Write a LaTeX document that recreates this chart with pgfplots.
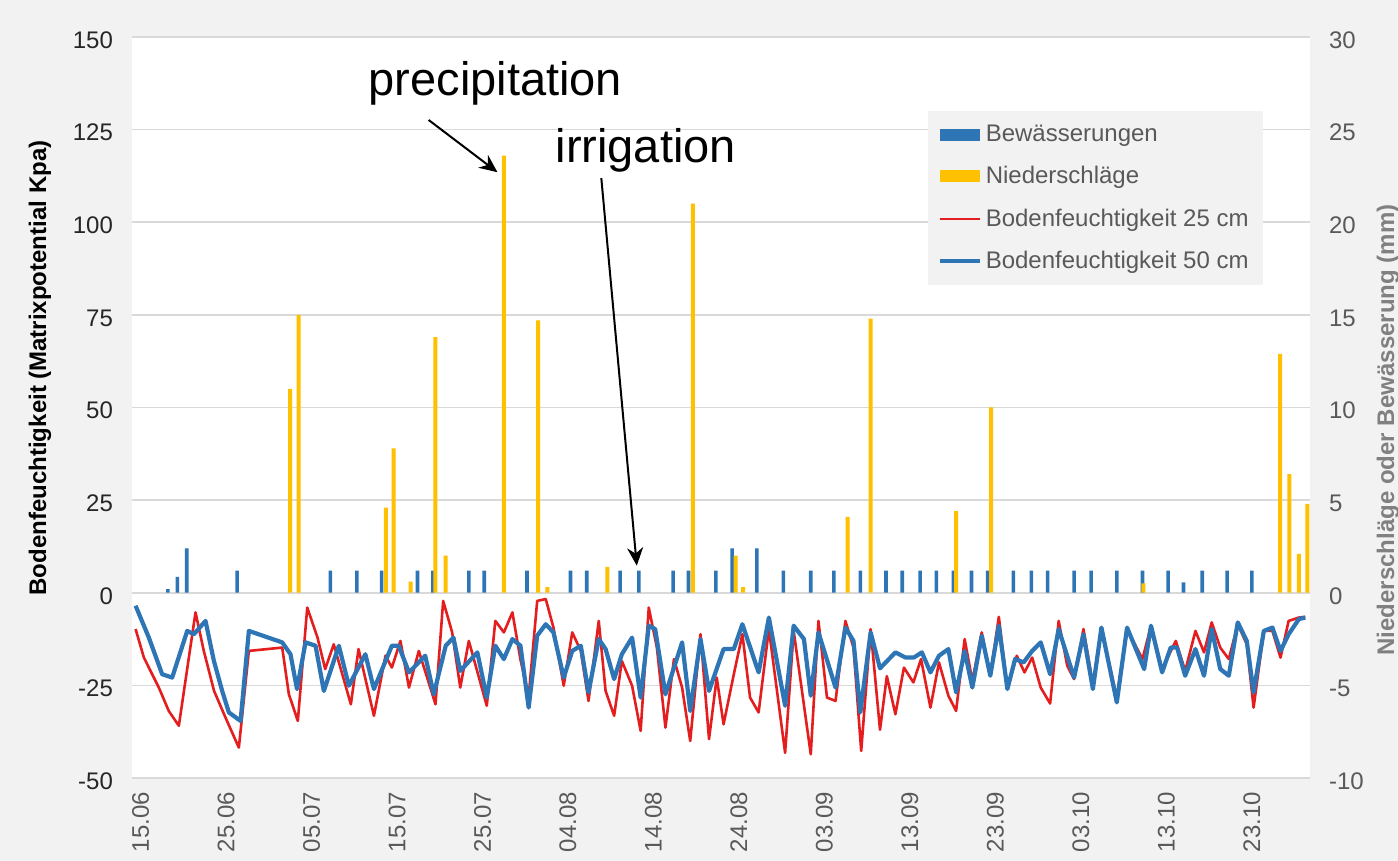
\documentclass[border=0pt]{standalone}
\usepackage{fontspec}
\setmainfont{Liberation Sans}
\usepackage{pgfplots}
\pgfplotsset{compat=1.18}
\usetikzlibrary{arrows.meta}
\definecolor{bggray}{RGB}{242,242,242}
\definecolor{gridgray}{RGB}{217,217,217}
\definecolor{cblue}{RGB}{46,117,182}
\definecolor{cyellow}{RGB}{255,192,0}
\definecolor{cred}{RGB}{228,30,30}
\definecolor{tgray}{RGB}{89,89,89}
\definecolor{tdark}{RGB}{38,38,38}
\definecolor{titlegray}{RGB}{128,128,128}
\newcommand{\tfont}{\fontsize{12}{14}\selectfont}
\begin{document}
\begin{tikzpicture}
\path[use as bounding box] (-66pt,-41.5pt) rectangle (633pt,389pt);
\clip (-66pt,-41.5pt) rectangle (633pt,389pt);
\fill[bggray] (-66pt,-41.5pt) rectangle (633pt,389pt);
\begin{axis}[
  scale only axis, width=589pt, height=370.5pt,
  xmin=-1, xmax=136.8, ymin=-50, ymax=150,
  axis line style={draw=none}, major tick length=0pt,
  ytick={-50,-25,0,25,50,75,100,125,150},
  ymajorgrids, grid style={gridgray, line width=0.8pt},
  axis background/.style={fill=white},
  xtick={0,10,...,130},
  xticklabels={15.06,25.06,05.07,15.07,25.07,04.08,14.08,24.08,03.09,13.09,23.09,03.10,13.10,23.10},
  xticklabel style={rotate=90, anchor=east, font=\tfont, text=tgray},
  xticklabel shift=3.5pt,
  yticklabel style={font=\tfont, text=tdark, yshift=-1.5pt},
  yticklabel shift=6pt,
  /pgf/number format/assume math mode=true,
  clip=false,
]
\addplot[cred, line width=1.3pt, line join=round] coordinates {
(-0.58,-9.8) (0.39,-17.5) (2.14,-25.6) (3.30,-31.9) (4.48,-35.9) (6.43,-5.3) (7.40,-15.7) (8.60,-26.5) (9.94,-33.7) (11.50,-41.8)
(12.67,-15.7) (16.57,-14.8) (17.35,-27.4) (18.40,-34.6) (19.50,-4.0) (20.70,-12.1) (21.60,-20.6) (22.60,-13.9) (24.60,-30.1) (25.50,-15.2)
(27.30,-33.2) (28.65,-17.0) (29.40,-20.2) (30.40,-13.0) (31.40,-25.6) (32.55,-15.7) (34.50,-30.1) (35.40,-2.2) (36.45,-10.7) (37.40,-25.6)
(38.40,-13.0) (40.50,-30.5) (41.50,-7.6) (42.50,-10.7) (43.50,-5.3) (44.44,-18.0) (45.40,-28.0) (46.40,-2.2) (47.40,-1.7) (48.30,-9.4)
(49.50,-25.1) (50.50,-10.7) (51.50,-15.7) (52.40,-29.2) (53.60,-7.6) (54.40,-26.5) (55.40,-33.2) (56.30,-18.4) (57.50,-25.1) (58.50,-37.3)
(59.45,-4.0) (60.40,-14.8) (61.40,-36.4) (62.40,-17.9) (63.35,-25.6) (64.30,-40.0) (65.50,-11.2) (66.50,-39.5) (67.40,-22.9) (68.20,-35.5)
(69.40,-22.0) (70.40,-11.2) (71.30,-28.3) (72.30,-32.3) (73.50,-9.8) (75.40,-43.2) (76.40,-10.3) (78.40,-43.6) (79.30,-7.6) (80.30,-28.3)
(81.30,-29.2) (82.45,-7.6) (83.40,-14.8) (84.30,-42.7) (85.40,-9.8) (86.50,-37.0) (87.30,-22.5) (88.30,-32.8) (89.30,-20.2) (90.40,-24.2)
(91.30,-17.9) (92.40,-31.0) (93.40,-18.8) (94.50,-27.8) (95.40,-31.9) (96.40,-12.5) (97.30,-23.8) (98.40,-10.7) (99.40,-22.4) (100.40,-6.5)
(101.40,-26.0) (102.50,-17.0) (103.40,-21.5) (104.30,-17.5) (105.30,-25.6) (106.40,-29.9) (107.40,-7.6) (108.40,-19.7) (109.20,-23.3) (110.30,-9.8)
(111.40,-24.7) (112.40,-9.8) (114.20,-28.3) (115.40,-9.8) (117.20,-17.9) (118.20,-8.9) (119.50,-20.6) (121.10,-13.0) (122.20,-21.1) (123.40,-10.3)
(124.40,-16.1) (125.30,-8.0) (126.30,-14.8) (127.30,-17.9) (128.35,-8.5) (129.40,-13.9) (130.20,-31.0) (131.40,-10.3) (132.40,-10.3) (133.35,-17.5)
(134.30,-7.6) (135.50,-6.7) (136.25,-6.5)
};
\addplot[cblue, line width=2.1pt, line join=round] coordinates {
(-0.58,-3.5) (0.97,-12.1) (2.53,-22.0) (3.70,-22.9) (5.46,-10.3) (6.24,-11.2) (7.60,-7.6) (8.58,-18.4) (9.55,-26.5) (10.33,-32.3)
(11.70,-34.6) (12.67,-10.3) (16.57,-13.4) (17.54,-16.6) (18.30,-26.0) (19.30,-13.4) (20.47,-14.3) (21.44,-26.5) (23.20,-14.3) (24.37,-25.1)
(26.30,-16.6) (27.30,-26.0) (29.40,-14.3) (30.20,-14.3) (31.40,-21.5) (33.30,-17.0) (34.30,-27.4) (35.70,-14.3) (36.60,-12.1) (37.40,-21.1)
(39.40,-16.1) (40.50,-28.3) (41.50,-14.3) (42.50,-17.9) (43.50,-12.5) (44.44,-14.3) (45.40,-31.0) (46.40,-11.6) (47.40,-8.5) (48.30,-10.7)
(49.50,-22.9) (50.50,-15.7) (51.50,-14.3) (52.40,-26.9) (53.60,-12.5) (54.40,-15.2) (55.40,-23.3) (56.30,-16.6) (57.50,-12.1) (58.50,-28.3)
(59.45,-8.9) (60.20,-9.8) (61.40,-27.4) (63.35,-13.4) (64.30,-31.9) (65.50,-12.5) (66.50,-26.5) (68.20,-15.2) (69.40,-15.2) (70.40,-8.5)
(72.30,-21.5) (73.50,-6.7) (75.40,-30.5) (76.40,-8.9) (77.60,-12.5) (78.40,-27.8) (79.30,-10.7) (81.30,-25.6) (82.45,-9.4) (83.40,-13.0)
(84.20,-32.3) (85.40,-10.7) (86.50,-20.4) (88.30,-16.1) (89.50,-17.5) (90.45,-17.5) (91.40,-16.1) (92.40,-21.5) (93.40,-17.0) (94.50,-15.2)
(95.40,-26.9) (96.40,-15.7) (97.30,-25.6) (98.40,-11.6) (99.40,-22.4) (100.40,-8.9) (101.40,-26.0) (102.30,-17.9) (103.30,-18.8) (104.30,-15.7)
(105.30,-13.4) (106.40,-22.0) (107.40,-9.8) (109.20,-22.9) (110.30,-11.2) (111.40,-26.0) (112.40,-9.4) (114.20,-29.6) (115.40,-9.4) (117.40,-20.6)
(118.20,-8.9) (119.50,-21.5) (120.50,-14.8) (121.25,-14.8) (122.20,-22.4) (123.40,-15.2) (124.40,-22.4) (125.30,-9.8) (126.30,-20.6) (127.30,-22.4)
(128.35,-8.0) (129.40,-13.0) (130.20,-26.9) (131.40,-10.3) (132.40,-9.4) (133.35,-15.7) (134.30,-11.2) (135.50,-7.1) (136.25,-6.7)
};
\node[font=\fontsize{23.5}{28}\selectfont, text=black] at (axis cs:41.5,137.6) {precipitation};
\node[font=\fontsize{23.5}{28}\selectfont, text=black] at (axis cs:59.1,119.5) {irrigation};
\draw[line width=1pt, -{Stealth[length=9pt,width=8pt]}] (axis cs:33.7,127.6) -- (axis cs:41.75,113.5);
\draw[line width=1pt, -{Stealth[length=9pt,width=8pt]}] (axis cs:53.9,111.9) -- (axis cs:58.05,7.3);
\end{axis}
\begin{axis}[
  scale only axis, width=589pt, height=370.5pt,
  xmin=-1, xmax=136.8, ymin=-10, ymax=30,
  hide x axis, axis y line*=right,
  axis line style={draw=none}, major tick length=0pt,
  ytick={-10,-5,0,5,10,15,20,25,30},
  yticklabel style={font=\tfont, text=tgray, yshift=-1.5pt},
  yticklabel shift=6pt,
  /pgf/number format/assume math mode=true,
  legend style={at={(rel axis cs:0.675,0.901)}, anchor=north west, fill=bggray, draw=none,
    font=\tfont, text=tgray, row sep=7pt, inner xsep=5pt, inner ysep=5pt},
  legend cell align=left,
]
\addplot[ybar, bar width=1.8pt, bar shift=0pt, fill=cblue, draw=none,
  legend image code/.code={\fill[cblue] (0pt,-3pt) rectangle (20pt,3pt);}] coordinates {
(3.2,0.2) (4.3,0.86) (5.4,2.4) (11.3,1.2) (22.2,1.2) (25.3,1.2) (28.2,1.2) (32.4,1.2) (34.2,1.2) (38.4,1.2)
(40.2,1.2) (45.2,1.2) (50.3,1.2) (52.2,1.2) (56.1,1.2) (58.3,1.2) (62.3,1.2) (64.1,1.2) (67.3,1.2) (69.2,2.4)
(72.1,2.4) (75.2,1.2) (78.4,1.2) (81.1,1.2) (84.2,1.2) (87.2,1.2) (89.1,1.2) (91.2,1.2) (93.1,1.2) (95.1,1.2)
(97.2,1.2) (99.1,1.2) (102.1,1.2) (104.2,1.2) (106.1,1.2) (109.2,1.2) (111.2,1.2) (114.2,1.2) (117.2,1.2) (120.2,1.2)
(122.0,0.56) (124.2,1.2) (127.1,1.2) (130.0,1.2)
};
\addlegendentry{Bewässerungen}
\addplot[ybar, bar width=2pt, bar shift=0pt, fill=cyellow, draw=none,
  legend image code/.code={\fill[cyellow] (0pt,-3pt) rectangle (20pt,3pt);}] coordinates {
(17.5,11.0) (18.5,15.0) (28.7,4.6) (29.6,7.8) (31.6,0.6) (34.5,13.8) (35.7,2.0) (42.5,23.6) (46.5,14.7) (47.6,0.3)
(54.6,1.4) (64.6,21.0) (69.6,2.0) (70.5,0.3) (82.7,4.1) (85.4,14.8) (95.4,4.4) (99.5,10.0) (117.3,0.5) (133.3,12.9)
(134.4,6.4) (135.5,2.1) (136.5,4.8)
};
\addlegendentry{Niederschläge}
\addlegendimage{legend image code/.code={\draw[cred, line width=1.2pt] (0pt,0pt) -- (20pt,0pt);}}
\addlegendentry{Bodenfeuchtigkeit 25 cm}
\addlegendimage{legend image code/.code={\draw[cblue, line width=2.1pt] (0pt,0pt) -- (20pt,0pt);}}
\addlegendentry{Bodenfeuchtigkeit 50 cm}
\end{axis}
\node[rotate=90, font=\bfseries\tfont, text=black] at (-46pt,205pt) {Bodenfeuchtigkeit (Matrixpotential Kpa)};
\node[rotate=90, font=\bfseries\tfont, text=titlegray] at (628pt,174pt) {Niederschläge oder Bewässerung (mm)};
\end{tikzpicture}
\end{document}
